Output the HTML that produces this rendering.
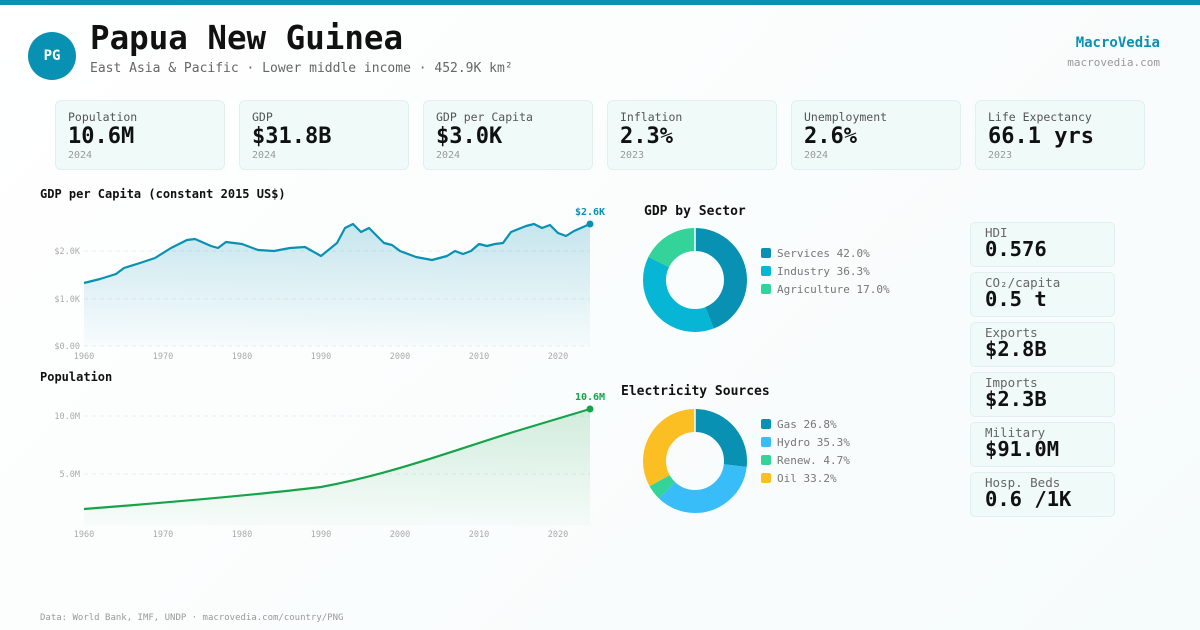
<!DOCTYPE html>
<html><head><meta charset="utf-8"><style>
*{margin:0;padding:0;box-sizing:border-box}
body{width:1200px;height:630px;overflow:hidden;background:linear-gradient(135deg,#fff 0%,#f6fbfb 100%);font-family:"DejaVu Sans Mono","Liberation Mono",monospace;position:relative;color:#111}
.a{position:absolute}
.card{position:absolute;top:100px;width:170px;height:70px;background:#f0faf9;border:1px solid #e1f0ee;border-radius:6px;padding:9px 12px}
.card .l{font-size:11.5px;color:#555}
.card .v{font-size:22px;font-weight:bold;line-height:26px}
.card .y{font-size:10px;color:#999}
.rc{position:absolute;left:970px;width:145px;height:45px;background:#f0faf9;border:1px solid #e1f0ee;border-radius:5px;padding:3px 14px}
.rc .l{font-size:12.5px;color:#666;line-height:14px}
.rc .v{font-size:20.5px;font-weight:bold;line-height:19px}
.t{font-size:12px;font-weight:bold}
.t2{font-size:13px;font-weight:bold}
</style></head><body>
<div class="a" style="left:0;top:0;width:1200px;height:5px;background:#0891b2"></div>
<div class="a" style="left:28px;top:32px;width:48px;height:48px;border-radius:50%;background:#0891b2;color:#fff;font-weight:bold;font-size:14px;text-align:center;line-height:48px">PG</div>
<div class="a" style="left:90px;top:19px;font-size:32.5px;font-weight:bold">Papua New Guinea</div>
<div class="a" style="left:90px;top:61px;font-size:13px;color:#666">East Asia &amp; Pacific · Lower middle income · 452.9K km²</div>
<div class="a" style="right:40px;top:35px;font-size:14px;font-weight:bold;color:#0891b2">MacroVedia</div>
<div class="a" style="right:40px;top:56px;font-size:11px;color:#999">macrovedia.com</div>
<div class="card" style="left:55px"><div class="l">Population</div><div class="v">10.6M</div><div class="y">2024</div></div>
<div class="card" style="left:239px"><div class="l">GDP</div><div class="v">$31.8B</div><div class="y">2024</div></div>
<div class="card" style="left:423px"><div class="l">GDP per Capita</div><div class="v">$3.0K</div><div class="y">2024</div></div>
<div class="card" style="left:607px"><div class="l">Inflation</div><div class="v">2.3%</div><div class="y">2023</div></div>
<div class="card" style="left:791px"><div class="l">Unemployment</div><div class="v">2.6%</div><div class="y">2024</div></div>
<div class="card" style="left:975px"><div class="l">Life Expectancy</div><div class="v">66.1 yrs</div><div class="y">2023</div></div>
<div class="a t" style="left:40px;top:187px">GDP per Capita (constant 2015 US$)</div>
<div class="a t" style="left:40px;top:370px">Population</div>
<div class="a t2" style="left:644px;top:204px">GDP by Sector</div>
<div class="a t2" style="left:621px;top:384px">Electricity Sources</div>
<svg class="a" style="left:0;top:0" width="1200" height="630" font-family="DejaVu Sans Mono,monospace">
<defs>
<linearGradient id="g1" x1="0" y1="0" x2="0" y2="1"><stop offset="0" stop-color="#0891b2" stop-opacity=".22"/><stop offset="1" stop-color="#0891b2" stop-opacity=".02"/></linearGradient>
<linearGradient id="g2" x1="0" y1="0" x2="0" y2="1"><stop offset="0" stop-color="#16a34a" stop-opacity=".18"/><stop offset="1" stop-color="#16a34a" stop-opacity=".02"/></linearGradient>
</defs>
<g stroke="#e5eef0" stroke-dasharray="4 4"><line x1="84" y1="251" x2="590" y2="251"/><line x1="84" y1="299" x2="590" y2="299"/><line x1="84" y1="346" x2="590" y2="346"/><line x1="84" y1="416" x2="590" y2="416"/><line x1="84" y1="474" x2="590" y2="474"/></g>
<g font-size="8.5" fill="#aaa" text-anchor="end"><text x="80" y="254">$2.0K</text><text x="80" y="302">$1.0K</text><text x="80" y="349">$0.00</text><text x="80" y="419">10.0M</text><text x="80" y="477">5.0M</text></g>
<g font-size="8.5" fill="#aaa" text-anchor="middle"><text x="84" y="359">1960</text><text x="163" y="359">1970</text><text x="242" y="359">1980</text><text x="321" y="359">1990</text><text x="400" y="359">2000</text><text x="479" y="359">2010</text><text x="558" y="359">2020</text>
<text x="84" y="537">1960</text><text x="163" y="537">1970</text><text x="242" y="537">1980</text><text x="321" y="537">1990</text><text x="400" y="537">2000</text><text x="479" y="537">2010</text><text x="558" y="537">2020</text></g>
<path d="M84,283 L100,279 L116,274 L124,268 L140,263 L155,258 L171,248 L187,240 L195,239 L211,246 L218,248 L226,242 L242,244 L258,250 L274,251 L290,248 L305,247 L321,256 L337,243 L345,228 L353,224 L361,232 L369,228 L384,243 L392,245 L400,251 L416,257 L432,260 L447,256 L455,251 L463,254 L471,251 L479,244 L487,246 L495,244 L503,243 L511,232 L526,226 L534,224 L542,228 L550,225 L558,233 L566,236 L574,231 L590,224 L590,346 L84,346Z" fill="url(#g1)"/>
<path d="M84,283 L100,279 L116,274 L124,268 L140,263 L155,258 L171,248 L187,240 L195,239 L211,246 L218,248 L226,242 L242,244 L258,250 L274,251 L290,248 L305,247 L321,256 L337,243 L345,228 L353,224 L361,232 L369,228 L384,243 L392,245 L400,251 L416,257 L432,260 L447,256 L455,251 L463,254 L471,251 L479,244 L487,246 L495,244 L503,243 L511,232 L526,226 L534,224 L542,228 L550,225 L558,233 L566,236 L574,231 L590,224" fill="none" stroke="#0891b2" stroke-width="2.2" stroke-linejoin="round"/>
<circle cx="590" cy="224" r="3.5" fill="#0891b2"/>
<text x="590" y="215" font-size="10" font-weight="bold" fill="#0891b2" text-anchor="middle">$2.6K</text>
<path d="M84,509 C200,500 280,492 321,487 C400,472 460,448 520,430 C550,421 570,415 590,409 L590,525 L84,525Z" fill="url(#g2)"/>
<path d="M84,509 C200,500 280,492 321,487 C400,472 460,448 520,430 C550,421 570,415 590,409" fill="none" stroke="#16a34a" stroke-width="2.2"/>
<circle cx="590" cy="409" r="3.5" fill="#16a34a"/>
<text x="590" y="400" font-size="10" font-weight="bold" fill="#16a34a" text-anchor="middle">10.6M</text>
<g transform="translate(695,280) rotate(-90)" fill="none" stroke-width="23">
<circle r="40.5" stroke="#0891b2" stroke-dasharray="112.2 254.5" />
<circle r="40.5" stroke="#06b6d4" stroke-dasharray="97 254.5" stroke-dashoffset="-112.2"/>
<circle r="40.5" stroke="#34d399" stroke-dasharray="45.3 254.5" stroke-dashoffset="-209.2"/>
</g>
<g transform="translate(695,461) rotate(-90)" fill="none" stroke-width="23">
<circle r="40.5" stroke="#0891b2" stroke-dasharray="68.2 254.5"/>
<circle r="40.5" stroke="#38bdf8" stroke-dasharray="89.8 254.5" stroke-dashoffset="-68.2"/>
<circle r="40.5" stroke="#34d399" stroke-dasharray="12 254.5" stroke-dashoffset="-158"/>
<circle r="40.5" stroke="#fbbf24" stroke-dasharray="84.5 254.5" stroke-dashoffset="-170"/>
</g>
<g stroke="#fff" stroke-width="1.5"><line x1="695" y1="228" x2="695" y2="252"/><line x1="695" y1="409" x2="695" y2="433"/></g>
<g font-size="11" fill="#777">
<rect x="761" y="248" width="10" height="10" rx="2" fill="#0891b2"/><text x="777" y="257">Services 42.0%</text>
<rect x="761" y="266" width="10" height="10" rx="2" fill="#06b6d4"/><text x="777" y="275">Industry 36.3%</text>
<rect x="761" y="284" width="10" height="10" rx="2" fill="#34d399"/><text x="777" y="293">Agriculture 17.0%</text>
<rect x="761" y="419" width="10" height="10" rx="2" fill="#0891b2"/><text x="777" y="428">Gas 26.8%</text>
<rect x="761" y="437" width="10" height="10" rx="2" fill="#38bdf8"/><text x="777" y="446">Hydro 35.3%</text>
<rect x="761" y="455" width="10" height="10" rx="2" fill="#34d399"/><text x="777" y="464">Renew. 4.7%</text>
<rect x="761" y="473" width="10" height="10" rx="2" fill="#fbbf24"/><text x="777" y="482">Oil 33.2%</text>
</g>
</svg>
<div class="rc" style="top:222px"><div class="l">HDI</div><div class="v">0.576</div></div>
<div class="rc" style="top:272px"><div class="l">CO₂/capita</div><div class="v">0.5 t</div></div>
<div class="rc" style="top:322px"><div class="l">Exports</div><div class="v">$2.8B</div></div>
<div class="rc" style="top:372px"><div class="l">Imports</div><div class="v">$2.3B</div></div>
<div class="rc" style="top:422px"><div class="l">Military</div><div class="v">$91.0M</div></div>
<div class="rc" style="top:472px"><div class="l">Hosp. Beds</div><div class="v">0.6 /1K</div></div>
<div class="a" style="left:40px;top:613px;font-size:9px;color:#999">Data: World Bank, IMF, UNDP · macrovedia.com/country/PNG</div>
</body></html>
